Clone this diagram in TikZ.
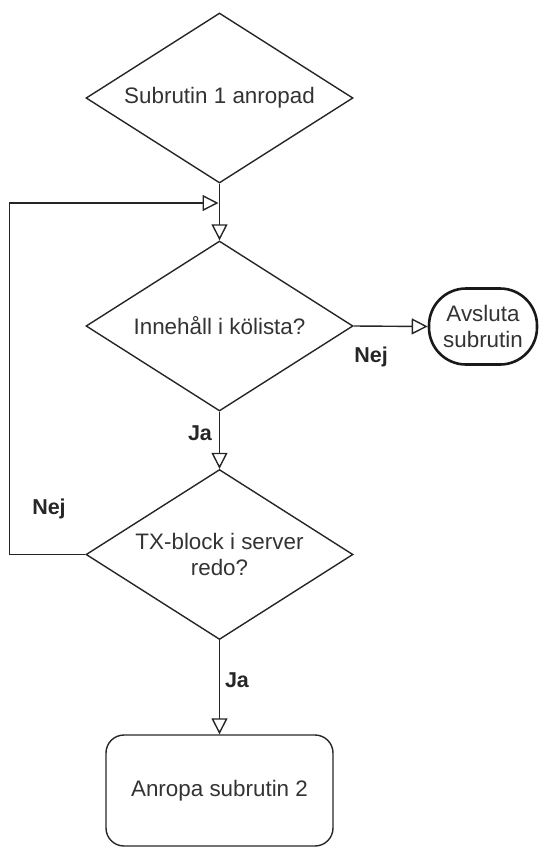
\documentclass[tikz,border=0pt]{standalone}
\usepackage{fontspec}
\setmainfont{Liberation Sans}
\usetikzlibrary{shapes.geometric,arrows.meta}
\begin{document}
\begin{tikzpicture}[x=1pt,y=-1pt,
  font=\fontsize{22.4}{26}\selectfont,
  decision/.style={diamond, draw=black!85, line width=1.4pt, aspect=1.57,
    minimum width=267pt, minimum height=170pt, inner sep=0pt,
    align=center, text=black!80},
  terminal/.style={draw=black!90, line width=2.6pt, rounded corners=37pt,
    minimum width=108pt, minimum height=76pt, inner sep=0pt,
    align=center, text=black!80},
  process/.style={draw=black!85, line width=1.4pt, rounded corners=18pt,
    minimum width=227pt, minimum height=111pt, inner sep=0pt, text=black!80},
  flow/.style={draw=black!85, line width=1.4pt,
    -{Triangle[open, length=16pt, width=16pt]}},
  lbl/.style={font=\fontsize{21.5}{26}\selectfont\bfseries, text=black!85}
]
\useasboundingbox (0,0) rectangle (539,847);

% blocks of the flow
\node[decision] (start) at (219.5,98)    {Subrutin 1 anropad};
\node[decision] (queue) at (219.5,326)   {Innehåll i kölista?};
\node[decision] (ready) at (219.5,554.5) {TX-block i server\\redo?};
\node[terminal] (quit)  at (483,326.5)   {Avsluta\\subrutin};
\node[process]  (call)  at (219.5,790.5) {Anropa subrutin 2};

% loop back into the main line
\coordinate (loopcorner) at (9.5,203);
\coordinate (merge) at (218.5,203);

% connectors
\draw[flow] (start.south) -- (queue.north);
\draw[flow] (queue.east) -- (quit.west);
\draw[flow] (queue.south) -- (ready.north);
\draw[flow] (ready.south) -- (call.north);
\draw[flow] (ready.west) -| (loopcorner) -- (merge);

% branch labels
\node[lbl] (nejquit) at (371,357) {Nej};
\node[lbl] (jaready) at (200,433) {Ja};
\node[lbl] (nejloop) at (49,509)  {Nej};
\node[lbl] (jacall)  at (237,680) {Ja};
\end{tikzpicture}
\end{document}
